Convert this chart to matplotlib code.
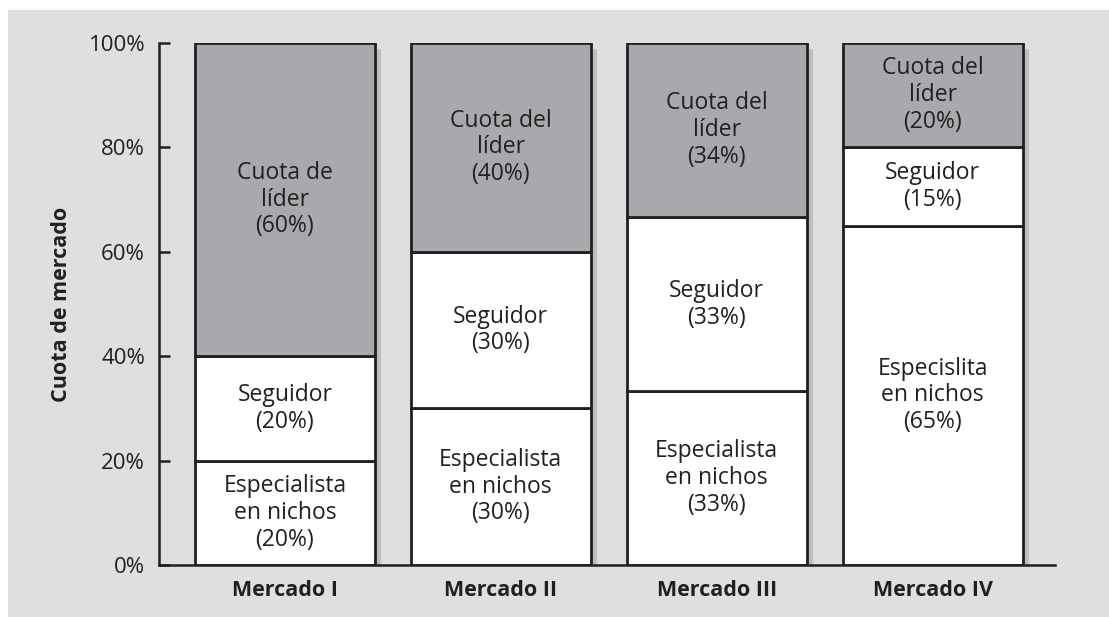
import matplotlib
matplotlib.use("Agg")
import matplotlib.pyplot as plt
from matplotlib.patches import Rectangle
import numpy as np

plt.rcParams['font.family'] = ['Open Sans', 'DejaVu Sans']

markets = ["Mercado I", "Mercado II", "Mercado III", "Mercado IV"]
nicho = [20, 30, 33.3, 65]
seguidor = [20, 30, 33.3, 15]
lider = [60, 40, 33.4, 20]
nicho_labels = ["Especialista\nen nichos\n(20%)", "Especialista\nen nichos\n(30%)",
                "Especialista\nen nichos\n(33%)", "Especislita\nen nichos\n(65%)"]
seguidor_labels = ["Seguidor\n(20%)", "Seguidor\n(30%)", "Seguidor\n(33%)", "Seguidor\n(15%)"]
lider_labels = ["Cuota de\nlíder\n(60%)", "Cuota del\nlíder\n(40%)",
                "Cuota del\nlíder\n(34%)", "Cuota del\nlíder\n(20%)"]
yticks = [0, 20, 40, 60, 80, 100]
ytick_labels = ["0%", "20%", "40%", "60%", "80%", "100%"]

TXT = "#231f20"
GRAY = "#a7a9ac"
SHADOW = "#bcbec0"

fig = plt.figure(figsize=(11.09, 6.17), dpi=100, facecolor="white")
fig.patches.append(Rectangle((8/1109, 0), 1 - 8/1109, 1 - 10/617, transform=fig.transFigure,
                             facecolor="#dedfe1", edgecolor="none", zorder=-10))
ax = fig.add_axes([159/1109, 52/617, (1055-159)/1109, (565-43)/617])
ax.set_zorder(5)
ax.set_facecolor("none")

x = np.arange(len(markets))
w = 0.833
dx = 6/216
# shadows
ax.bar(x + dx, [100 - 6/5.22]*len(x), width=w, color=SHADOW, edgecolor="none", zorder=1)
nicho_a = np.array(nicho)
seg_a = np.array(seguidor)
lid_a = np.array(lider)
ax.bar(x, nicho_a, width=w, color="white", edgecolor=TXT, linewidth=2, zorder=2)
ax.bar(x, seg_a, bottom=nicho_a, width=w, color="white", edgecolor=TXT, linewidth=2, zorder=2)
ax.bar(x, lid_a, bottom=nicho_a + seg_a, width=w, color=GRAY, edgecolor=TXT, linewidth=2, zorder=2)

fs = 16.5
ls = 1.15
for i in range(len(x)):
    ax.text(x[i], nicho_a[i]/2, nicho_labels[i], ha="center", va="center", fontsize=fs,
            color=TXT, linespacing=ls, zorder=3)
    ax.text(x[i], nicho_a[i] + seg_a[i]/2, seguidor_labels[i], ha="center", va="center",
            fontsize=fs, color=TXT, linespacing=ls, zorder=3)
    ax.text(x[i], nicho_a[i] + seg_a[i] + lid_a[i]/2, lider_labels[i], ha="center", va="center",
            fontsize=fs, color=TXT, linespacing=ls, zorder=3)

ax.set_xlim(-0.583, 3.567)
ax.set_ylim(0, 100)
ax.set_yticks(yticks)
ax.set_yticklabels(ytick_labels, fontsize=16, color=TXT)
ax.set_xticks(x)
ax.set_xticklabels(markets, fontsize=15.5, fontweight="bold", color=TXT)
ax.tick_params(axis="y", direction="in", length=8, width=1.8, color=TXT, pad=10)
ax.tick_params(axis="x", length=0, pad=11)
for s in ["top", "right"]:
    ax.spines[s].set_visible(False)
for s in ["left", "bottom"]:
    ax.spines[s].set_linewidth(1.8)
    ax.spines[s].set_color(TXT)
ax.set_ylabel("Cuota de mercado", fontsize=15.5, fontweight="bold", color=TXT, labelpad=12)

fig.savefig("out.png", dpi=100, facecolor="white")
